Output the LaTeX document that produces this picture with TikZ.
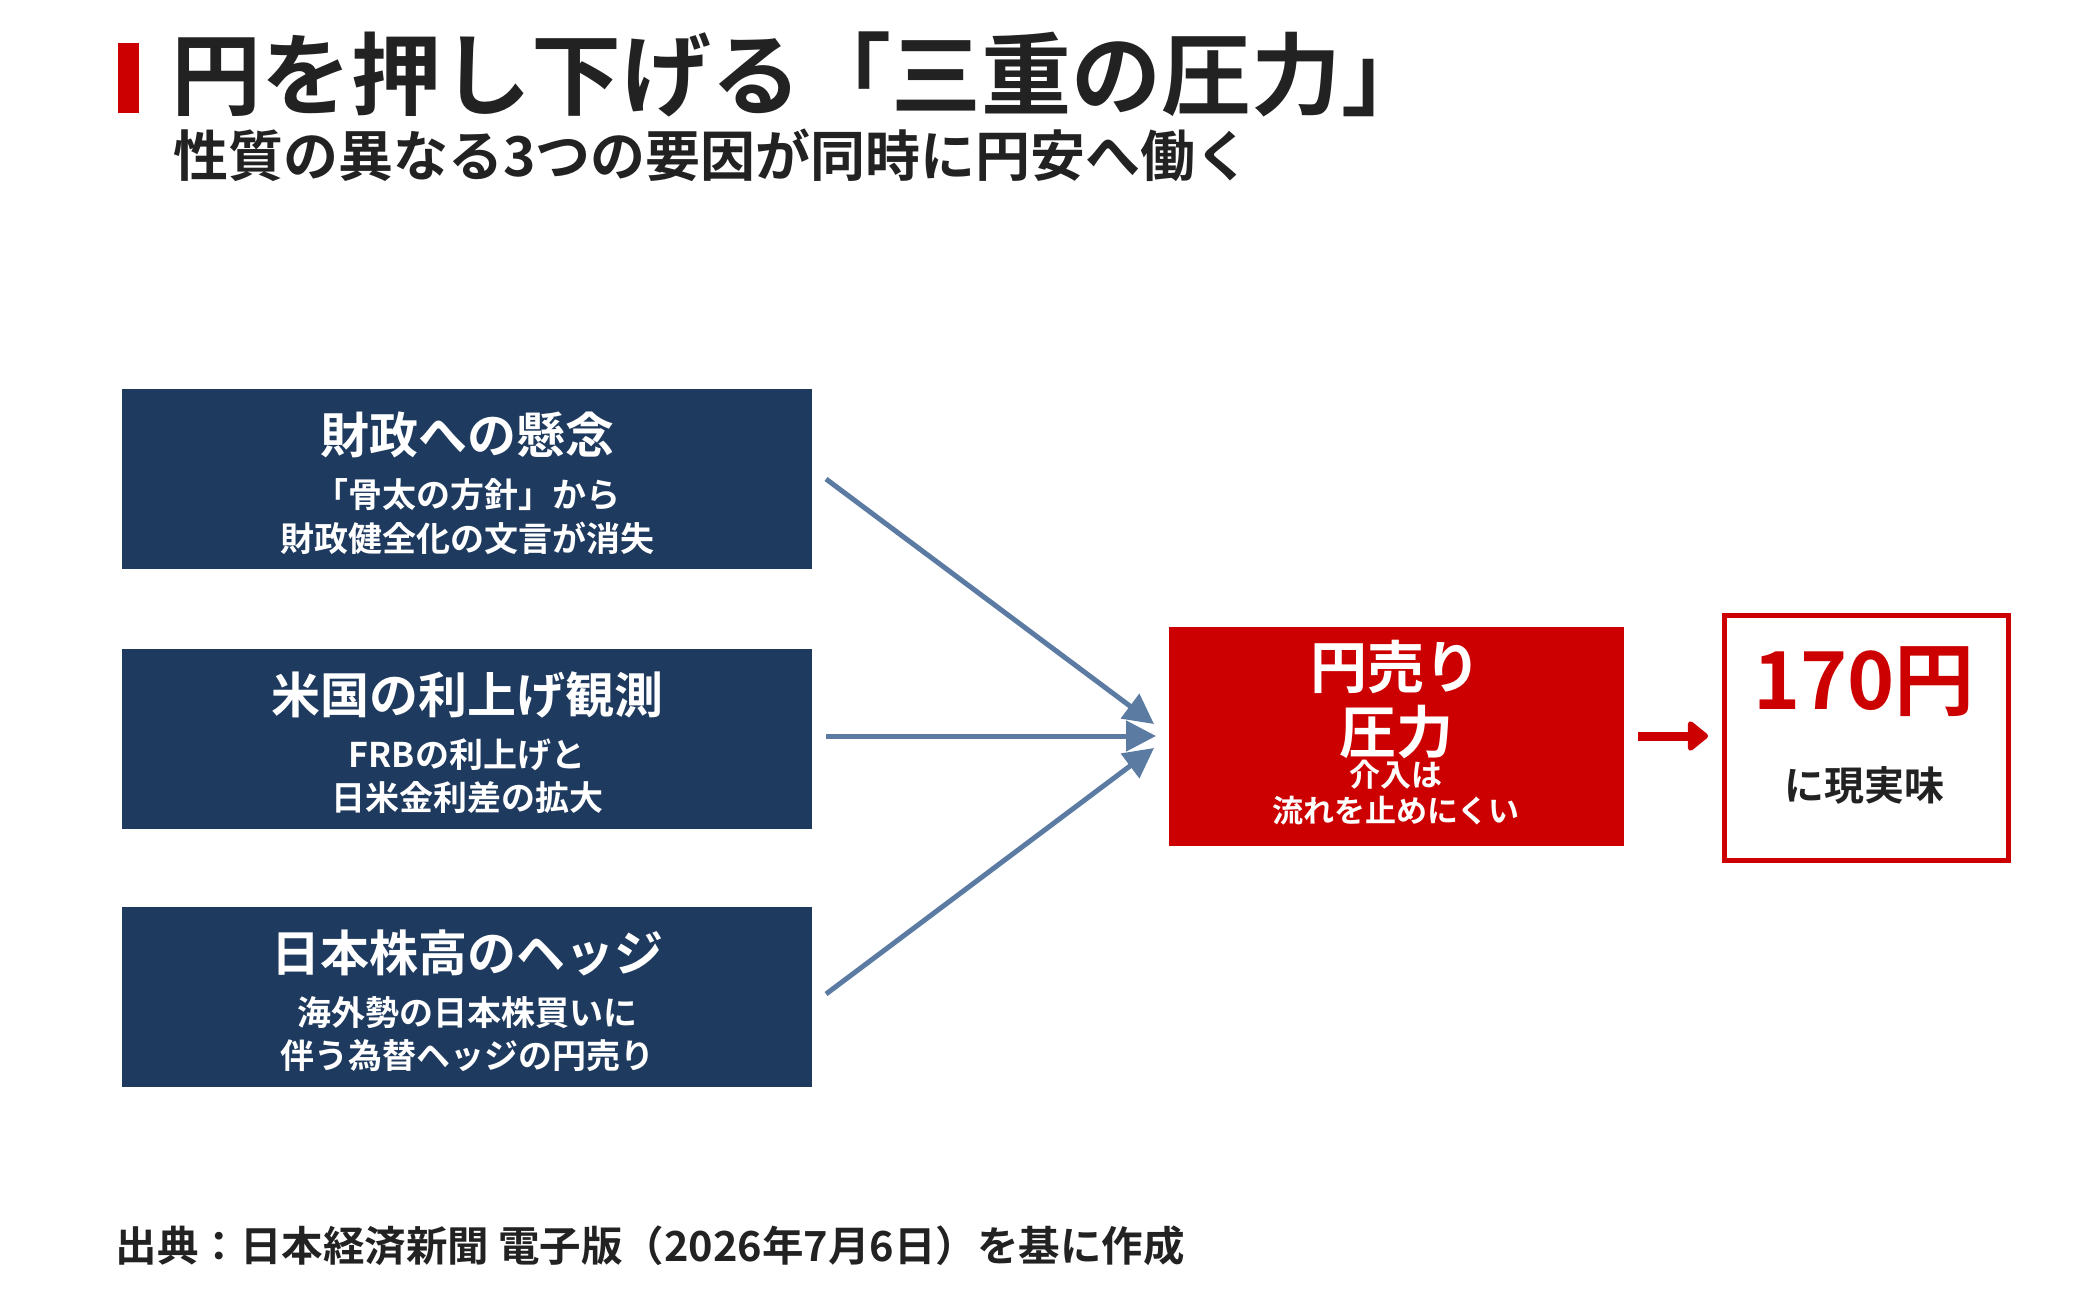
\documentclass[tikz,border=0pt]{standalone}
\usepackage{fontspec}
\setmainfont{Noto Sans CJK JP}[BoldFont={* Bold}]
\usetikzlibrary{arrows.meta}
\definecolor{navy}{HTML}{1F3A5F}
\definecolor{myred}{HTML}{CC0000}
\definecolor{steel}{HTML}{5B7BA3}
\definecolor{ink}{HTML}{222222}
\tikzset{
 fbox/.style={fill=navy,draw=none,minimum width=690pt,minimum height=180pt,anchor=north west,inner sep=0},
 btitle/.style={text=white,font=\fontsize{49}{52}\selectfont\bfseries},
 bsub/.style={text=white,font=\fontsize{34}{37}\selectfont\bfseries},
 conn/.style={draw=steel,line width=5pt,-{Triangle[length=30pt,width=30pt]}},
}
\begin{document}
\begin{tikzpicture}[x=1pt,y=-1pt]
\useasboundingbox (0,0) rectangle (2100,1290);
\fill[myred] (118,43) rectangle (139,113);
\node[anchor=west,text=ink,font=\fontsize{90}{94}\selectfont\bfseries] (title) at (168,74) {円を押し下げる「三重の圧力」};
\node[anchor=west,text=ink,font=\fontsize{55}{58}\selectfont\bfseries] (sub) at (170,155) {性質の異なる3つの要因が同時に円安へ働く};

\node[fbox] (b1) at (122,389) {};
\node[fbox] (b2) at (122,649) {};
\node[fbox] (b3) at (122,907) {};
\node[btitle] (t1) at (467,435) {財政への懸念};
\node[bsub] (s1a) at (467,495) {「骨太の方針」から};
\node[bsub] (s1b) at (467,538) {財政健全化の文言が消失};
\node[btitle] (t2) at (467,695) {米国の利上げ観測};
\node[bsub] (s2a) at (467,755) {FRBの利上げと};
\node[bsub] (s2b) at (467,798) {日米金利差の拡大};
\node[btitle] (t3) at (467,953) {日本株高のヘッジ};
\node[bsub] (s3a) at (467,1013) {海外勢の日本株買いに};
\node[bsub] (s3b) at (467,1056) {伴う為替ヘッジの円売り};

\node[fill=myred,minimum width=455pt,minimum height=219pt,anchor=north west,inner sep=0] (rb) at (1169,627) {};
\node[text=white,font=\fontsize{57}{60}\selectfont\bfseries] (r1) at (1396,667) {円売り};
\node[text=white,font=\fontsize{57}{60}\selectfont\bfseries] (r2) at (1396,732) {圧力};
\node[text=white,font=\fontsize{31}{34}\selectfont\bfseries] (r3) at (1396,775) {介入は};
\node[text=white,font=\fontsize{31}{34}\selectfont\bfseries] (r4) at (1396,811) {流れを止めにくい};

\node[draw=myred,line width=5pt,fill=white,minimum width=284pt,minimum height=245pt,anchor=north west,inner sep=0] (ob) at (1722,613) {};
\node[text=myred,font=\fontsize{80}{84}\selectfont\bfseries] (o1) at (1864,682) {170円};
\node[text=ink,font=\fontsize{40}{44}\selectfont\bfseries] (o2) at (1864,785) {に現実味};

\coordinate (a1) at (826,479);
\coordinate (a2) at (826,736);
\coordinate (a3) at (826,994);
\coordinate (e1) at (1154,724);
\coordinate (e2) at (1156,736);
\coordinate (e3) at (1154,748);
\draw[conn] (a1) -- (e1);
\draw[conn] (a2) -- (e2);
\draw[conn] (a3) -- (e3);
\coordinate (ra) at (1638,736);
\coordinate (rb2) at (1708,736);
\draw[myred,line width=9pt,-{Triangle[length=22pt,width=34pt,round]}] (ra) -- (rb2);

\node[anchor=west,text=ink,font=\fontsize{41.5}{45}\selectfont\bfseries] (foot) at (112,1246) {出典：日本経済新聞 電子版（2026年7月6日）を基に作成};
\end{tikzpicture}
\end{document}
